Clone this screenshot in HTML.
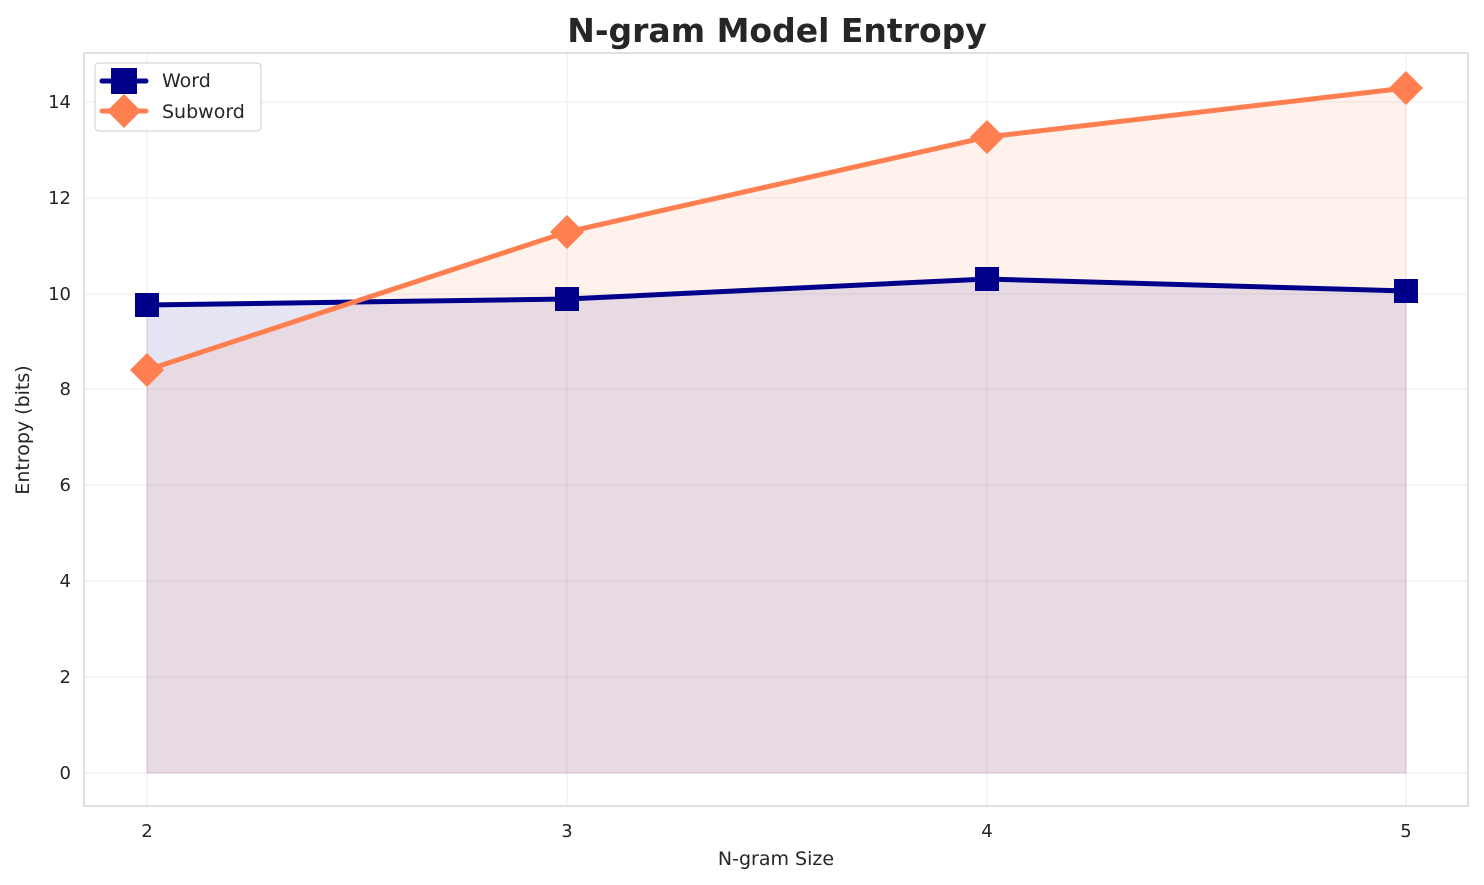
<!DOCTYPE html>
<html><head><meta charset="utf-8"><style>body{margin:0;background:#fff}svg{display:block;font-family:"DejaVu Sans",sans-serif}</style></head>
<body>
<svg width="1484" height="885" viewBox="0 0 1484 885">
<rect width="1484" height="885" fill="#fff"/>
<g stroke="#ebebeb" stroke-width="1">
<line x1="147" y1="53" x2="147" y2="806"/><line x1="567" y1="53" x2="567" y2="806"/><line x1="987" y1="53" x2="987" y2="806"/><line x1="1406" y1="53" x2="1406" y2="806"/>
<line x1="84" y1="773" x2="1468" y2="773"/><line x1="84" y1="677" x2="1468" y2="677"/><line x1="84" y1="581" x2="1468" y2="581"/><line x1="84" y1="485" x2="1468" y2="485"/><line x1="84" y1="389" x2="1468" y2="389"/><line x1="84" y1="294" x2="1468" y2="294"/><line x1="84" y1="198" x2="1468" y2="198"/><line x1="84" y1="102" x2="1468" y2="102"/>
</g>
<polygon points="147,773 147,305 567,299 987,279 1406,291 1406,773" fill="#00008b" fill-opacity="0.1" stroke="#00008b" stroke-opacity="0.1"/>
<polygon points="147,773 147,370 567,232 987,137 1406,88 1406,773" fill="#ff7f50" fill-opacity="0.1" stroke="#ff7f50" stroke-opacity="0.1"/>
<rect x="84" y="53" width="1384" height="753" fill="none" stroke="#ccc" stroke-width="1.2"/>
<polyline points="147,305 567,299 987,279 1406,291" fill="none" stroke="#00008b" stroke-width="5"/>
<polyline points="147,370 567,232 987,137 1406,88" fill="none" stroke="#ff7f50" stroke-width="5"/>
<g fill="#00008b"><rect x="135" y="293" width="24" height="24"/><rect x="555" y="287" width="24" height="24"/><rect x="975" y="267" width="24" height="24"/><rect x="1394" y="279" width="24" height="24"/></g>
<g fill="#ff7f50"><polygon points="147,353 164,370 147,387 130,370"/><polygon points="567,215 584,232 567,249 550,232"/><polygon points="987,120 1004,137 987,154 970,137"/><polygon points="1406,71 1423,88 1406,105 1389,88"/></g>
<g font-size="18" fill="#262626" text-anchor="end">
<text x="71" y="779">0</text><text x="71" y="683">2</text><text x="71" y="587">4</text><text x="71" y="491">6</text><text x="71" y="395">8</text><text x="71" y="300">10</text><text x="71" y="204">12</text><text x="71" y="108">14</text>
</g>
<g font-size="18" fill="#262626" text-anchor="middle">
<text x="147" y="837">2</text><text x="567" y="837">3</text><text x="987" y="837">4</text><text x="1406" y="837">5</text>
<text x="776" y="865" font-size="19">N-gram Size</text>
</g>
<text transform="translate(29,430) rotate(-90)" font-size="19" fill="#262626" text-anchor="middle">Entropy (bits)</text>
<text x="777" y="42" font-size="33" font-weight="bold" fill="#262626" text-anchor="middle">N-gram Model Entropy</text>
<rect x="95" y="63" width="166" height="68" rx="4" fill="#fff" fill-opacity="0.85" stroke="#ccc"/>
<line x1="102" y1="81" x2="146" y2="81" stroke="#00008b" stroke-width="5" stroke-linecap="round"/>
<rect x="111" y="68" width="26" height="26" fill="#00008b"/>
<line x1="102" y1="111" x2="146" y2="111" stroke="#ff7f50" stroke-width="5" stroke-linecap="round"/>
<polygon points="124,94 141,111 124,128 107,111" fill="#ff7f50"/>
<text x="162" y="87" font-size="19" fill="#262626">Word</text>
<text x="162" y="118" font-size="19" fill="#262626">Subword</text>
</svg>
</body></html>
